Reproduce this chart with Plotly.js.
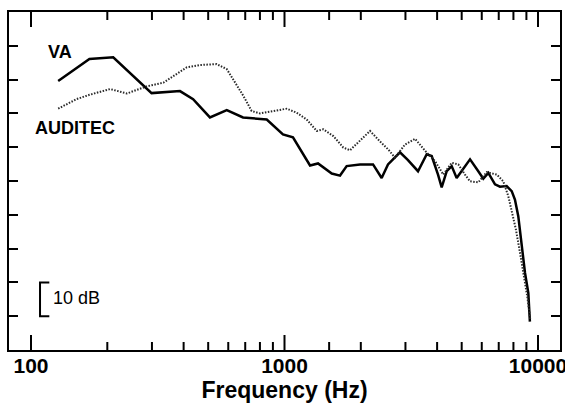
<!DOCTYPE html>
<html>
<head>
<meta charset="utf-8">
<script src="https://cdn.plot.ly/plotly-3.0.1.min.js"></script>
<style>
  html, body { margin: 0; padding: 0; background: #fff; }
  #chart { width: 565px; height: 407px; }
</style>
</head>
<body>
<div id="chart"></div>
<script>
// Long-term average speech spectra of two recordings (relative level, dB)
const vaFreq = [128, 170, 211, 299, 387, 436, 508, 592, 686, 851, 986, 1080, 1261, 1356, 1536, 1656, 1759, 1986, 2235, 2417, 2560, 2855, 3070, 3363, 3639, 3808, 4033, 4169, 4365, 4566, 4777, 5394, 5814, 6085, 6368, 6767, 7080, 7523, 7875, 8110, 8360, 8625, 8887, 9157, 9291];
const vaLevel = [79.6, 86.1, 86.6, 76.0, 76.6, 74.2, 68.8, 71.0, 68.8, 68.2, 63.8, 62.9, 54.6, 55.2, 52.2, 51.6, 54.4, 54.9, 54.9, 50.9, 54.9, 58.5, 56.2, 52.9, 57.9, 57.4, 51.9, 48.1, 52.9, 54.4, 50.9, 56.4, 52.9, 50.7, 52.4, 49.0, 48.3, 48.5, 47.0, 44.5, 39.6, 30.7, 22.8, 16.9, 8.4];

const auditecFreq = [128, 151, 170, 205, 239, 286, 333, 411, 464, 540, 592, 638, 688, 742, 801, 903, 1020, 1117, 1223, 1340, 1423, 1558, 1706, 1813, 2016, 2175, 2381, 2568, 2729, 2988, 3272, 3639, 3924, 4231, 4566, 4849, 5152, 5394, 5814, 6277, 6877, 7297, 7636, 7875, 8185, 8491, 8750, 9073, 9325];
const auditecLevel = [71.4, 74.2, 75.5, 77.2, 75.9, 78.0, 79.1, 83.6, 84.3, 84.6, 83.1, 79.1, 75.2, 70.7, 70.0, 70.7, 71.4, 70.2, 68.2, 64.8, 65.3, 63.3, 59.9, 59.1, 62.3, 64.8, 61.7, 59.3, 56.9, 60.8, 62.5, 58.4, 55.9, 51.9, 55.4, 54.9, 51.9, 49.9, 49.6, 52.6, 51.9, 49.9, 45.5, 41.5, 35.6, 28.8, 22.8, 15.8, 8.9];

// Axis ticks: labelled decades plus short intermediate ticks
const majorTicks = [100, 1000, 10000];
const majorLabels = ['100', '1000', '10000'];
const minorTicks = [200, 300, 400, 500, 600, 700, 800, 900, 1500, 2000, 3000, 4000, 5000, 6000, 7000, 8000, 9000];

const allTicks = majorTicks.concat(minorTicks);
const allLabels = majorLabels.concat(minorTicks.map(() => ''));

const textFont = { family: 'Liberation Sans, Arial, sans-serif', color: '#000' };
const xRange = [1.9132, 4.0868];

// Inside tick marks on the frequency axis, bottom and top edges,
// placed on the x scale and sized in pixels from the frame.
function tickMarks(values, len) {
  const marks = [];
  values.forEach(v => {
    [[0, len], [1, -len]].forEach(([anchor, dy]) => {
      marks.push({
        type: 'line', xref: 'x', yref: 'paper', ysizemode: 'pixel', yanchor: anchor,
        x0: v, x1: v, y0: 0, y1: dy,
        line: { color: '#000', width: 2 }
      });
    });
  });
  return marks;
}

const traces = [
  {
    x: vaFreq, y: vaLevel, name: 'VA', type: 'scatter', mode: 'lines',
    line: { color: '#000', width: 2.5 }
  },
  {
    x: auditecFreq, y: auditecLevel, name: 'AUDITEC', type: 'scatter', mode: 'lines',
    line: { color: '#2a2a2a', width: 2, dash: '1.5px,1.5px' }
  }
];

const layout = {
  width: 565, height: 407,
  margin: { l: 9, r: 5, t: 12, b: 57 },
  paper_bgcolor: '#fff', plot_bgcolor: '#fff',
  showlegend: false,
  xaxis: {
    type: 'log', range: xRange,
    showgrid: false, zeroline: false,
    showline: true, linecolor: '#000', linewidth: 2, mirror: true,
    ticks: '', tickmode: 'array', tickvals: allTicks, ticktext: allLabels,
    ticklabeloverflow: 'allow', ticklabelstandoff: -4,
    tickfont: Object.assign({ size: 21, weight: 'bold' }, textFont),
    title: { text: 'Frequency (Hz)', font: Object.assign({ size: 23, weight: 'bold' }, textFont), standoff: 6 }
  },
  yaxis: {
    range: [0, 100], dtick: 10, tick0: 0,
    showgrid: false, zeroline: false,
    showline: true, linecolor: '#000', linewidth: 2, mirror: 'ticks',
    ticks: 'inside', ticklen: 9, tickwidth: 2, tickcolor: '#000',
    showticklabels: false
  },
  shapes: tickMarks(majorTicks, 15).concat(tickMarks(minorTicks, 8), [
    // 10 dB scale bracket
    {
      type: 'path', xref: 'paper', yref: 'y',
      path: 'M 0.0732 20 L 0.0563 20 L 0.0563 10 L 0.0732 10',
      line: { color: '#000', width: 2 }
    }
  ]),
  annotations: [
    { text: 'VA', xref: 'paper', yref: 'paper', x: 0.0926, y: 0.8825, xanchor: 'center', yanchor: 'middle',
      showarrow: false, font: Object.assign({ size: 18, weight: 'bold' }, textFont) },
    { text: 'AUDITEC', xref: 'paper', yref: 'paper', x: 0.1198, y: 0.656, xanchor: 'center', yanchor: 'middle',
      showarrow: false, font: Object.assign({ size: 18, weight: 'bold' }, textFont) },
    { text: '10 dB', xref: 'paper', yref: 'paper', x: 0.1234, y: 0.1538, xanchor: 'center', yanchor: 'middle',
      showarrow: false, font: Object.assign({ size: 18 }, textFont) }
  ]
};

Plotly.newPlot('chart', traces, layout, { displayModeBar: false });
</script>
</body>
</html>
